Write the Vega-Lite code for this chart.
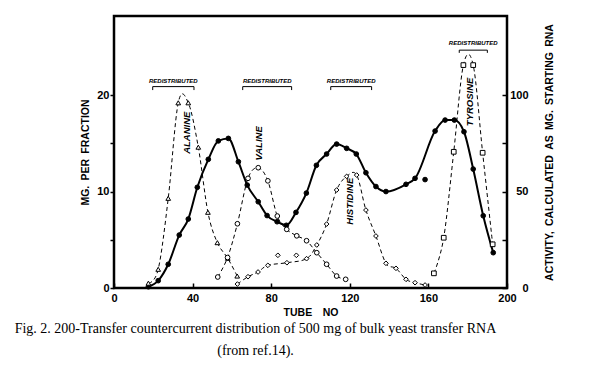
{
  "$schema": "https://vega.github.io/schema/vega-lite/v6.json",
  "width": 393,
  "height": 272,
  "autosize": {"type": "none"},
  "padding": {"left": 114, "top": 16, "right": 106, "bottom": 87},
  "background": "white",
  "config": {
    "view": {"stroke": "black", "strokeWidth": 2.5},
    "axis": {
      "labelFont": "Liberation Sans", "titleFont": "Liberation Sans",
      "labelColor": "black", "titleColor": "black", "tickColor": "black",
      "domain": false, "grid": false, "labelFontSize": 11, "labelFontWeight": "bold",
      "titleFontSize": 10.5, "titleFontWeight": "bold", "labelFlush": false, "labelOverlap": false, "tickWidth": 1.5
    }
  },
  "title": {
    "text": ["Fig. 2. 200-Transfer countercurrent distribution of 500 mg of bulk yeast transfer RNA", "(from ref.14)."],
    "orient": "bottom", "anchor": "middle", "frame": "group", "dx": -55, "offset": 4,
    "font": "Liberation Serif", "fontSize": 14, "fontWeight": "normal", "lineHeight": 22, "color": "black"
  },
  "datasets": {
    "curves": [
      {"series": "Total", "tube": 17.5, "mg": 0.13, "on_curve": true},
      {"series": "Total", "tube": 22.5, "mg": 0.76, "on_curve": true},
      {"series": "Total", "tube": 27.6, "mg": 2.46, "on_curve": true},
      {"series": "Total", "tube": 33.2, "mg": 5.49, "on_curve": true},
      {"series": "Total", "tube": 37.8, "mg": 7.15, "on_curve": true},
      {"series": "Total", "tube": 42.4, "mg": 10.44, "on_curve": true},
      {"series": "Total", "tube": 48.0, "mg": 13.34, "on_curve": true},
      {"series": "Total", "tube": 53.1, "mg": 15.25, "on_curve": true},
      {"series": "Total", "tube": 58.2, "mg": 15.51, "on_curve": true},
      {"series": "Total", "tube": 63.3, "mg": 13.09, "on_curve": true},
      {"series": "Total", "tube": 67.8, "mg": 10.67, "on_curve": true},
      {"series": "Total", "tube": 73.4, "mg": 8.94, "on_curve": true},
      {"series": "Total", "tube": 77.9, "mg": 7.51, "on_curve": true},
      {"series": "Total", "tube": 83.0, "mg": 6.87, "on_curve": true},
      {"series": "Total", "tube": 87.7, "mg": 6.5, "on_curve": true},
      {"series": "Total", "tube": 92.6, "mg": 7.84, "on_curve": true},
      {"series": "Total", "tube": 97.9, "mg": 9.84, "on_curve": true},
      {"series": "Total", "tube": 103.0, "mg": 12.72, "on_curve": true},
      {"series": "Total", "tube": 108.2, "mg": 13.89, "on_curve": true},
      {"series": "Total", "tube": 113.3, "mg": 14.92, "on_curve": true},
      {"series": "Total", "tube": 118.4, "mg": 14.48, "on_curve": true},
      {"series": "Total", "tube": 123.3, "mg": 13.89, "on_curve": true},
      {"series": "Total", "tube": 128.2, "mg": 11.95, "on_curve": true},
      {"series": "Total", "tube": 133.3, "mg": 10.52, "on_curve": true},
      {"series": "Total", "tube": 138.4, "mg": 10.0, "on_curve": true},
      {"series": "Total", "tube": 148.6, "mg": 10.75, "on_curve": true},
      {"series": "Total", "tube": 153.2, "mg": 11.37, "on_curve": true},
      {"series": "Total", "tube": 158.3, "mg": 11.24, "on_curve": false},
      {"series": "Total", "tube": 163.4, "mg": 16.27, "on_curve": true},
      {"series": "Total", "tube": 168.5, "mg": 17.41, "on_curve": true},
      {"series": "Total", "tube": 173.2, "mg": 17.41, "on_curve": true},
      {"series": "Total", "tube": 178.1, "mg": 16.2, "on_curve": true},
      {"series": "Total", "tube": 182.8, "mg": 12.33, "on_curve": true},
      {"series": "Total", "tube": 187.9, "mg": 7.49, "on_curve": true},
      {"series": "Total", "tube": 193.0, "mg": 3.66, "on_curve": true},
      {"series": "Alanine", "tube": 17.5, "mg": 0.5, "on_curve": true},
      {"series": "Alanine", "tube": 22.5, "mg": 1.94, "on_curve": true},
      {"series": "Alanine", "tube": 27.6, "mg": 9.3, "on_curve": true},
      {"series": "Alanine", "tube": 32.7, "mg": 19.2, "on_curve": true},
      {"series": "Alanine", "tube": 37.8, "mg": 19.2, "on_curve": true},
      {"series": "Alanine", "tube": 42.9, "mg": 14.6, "on_curve": true},
      {"series": "Alanine", "tube": 47.8, "mg": 7.85, "on_curve": true},
      {"series": "Alanine", "tube": 52.6, "mg": 4.7, "on_curve": true},
      {"series": "Alanine", "tube": 57.9, "mg": 3.08, "on_curve": true},
      {"series": "Alanine", "tube": 62.7, "mg": 1.24, "on_curve": true},
      {"series": "Valine", "tube": 52.8, "mg": 1.14, "on_curve": true},
      {"series": "Valine", "tube": 57.8, "mg": 3.16, "on_curve": true},
      {"series": "Valine", "tube": 62.8, "mg": 6.66, "on_curve": true},
      {"series": "Valine", "tube": 68.2, "mg": 11.37, "on_curve": true},
      {"series": "Valine", "tube": 73.4, "mg": 12.47, "on_curve": true},
      {"series": "Valine", "tube": 78.3, "mg": 11.11, "on_curve": true},
      {"series": "Valine", "tube": 83.1, "mg": 7.46, "on_curve": true},
      {"series": "Valine", "tube": 87.9, "mg": 6.08, "on_curve": true},
      {"series": "Valine", "tube": 93.0, "mg": 5.41, "on_curve": true},
      {"series": "Valine", "tube": 98.0, "mg": 4.9, "on_curve": true},
      {"series": "Valine", "tube": 103.2, "mg": 3.66, "on_curve": true},
      {"series": "Valine", "tube": 108.2, "mg": 2.46, "on_curve": true},
      {"series": "Valine", "tube": 113.3, "mg": 1.24, "on_curve": true},
      {"series": "Valine", "tube": 117.9, "mg": 0.9, "on_curve": true},
      {"series": "Histidine", "tube": 62.8, "mg": 0.41, "on_curve": true},
      {"series": "Histidine", "tube": 68.2, "mg": 1.17, "on_curve": true},
      {"series": "Histidine", "tube": 73.3, "mg": 1.66, "on_curve": true},
      {"series": "Histidine", "tube": 78.3, "mg": 2.35, "on_curve": true},
      {"series": "Histidine", "tube": 83.4, "mg": 3.39, "on_curve": false},
      {"series": "Histidine", "tube": 88.0, "mg": 2.62, "on_curve": true},
      {"series": "Histidine", "tube": 92.8, "mg": 3.39, "on_curve": false},
      {"series": "Histidine", "tube": 98.0, "mg": 3.04, "on_curve": true},
      {"series": "Histidine", "tube": 103.2, "mg": 4.46, "on_curve": true},
      {"series": "Histidine", "tube": 108.2, "mg": 6.63, "on_curve": true},
      {"series": "Histidine", "tube": 113.3, "mg": 10.16, "on_curve": true},
      {"series": "Histidine", "tube": 118.4, "mg": 11.57, "on_curve": true},
      {"series": "Histidine", "tube": 123.5, "mg": 11.71, "on_curve": true},
      {"series": "Histidine", "tube": 128.2, "mg": 8.08, "on_curve": true},
      {"series": "Histidine", "tube": 133.3, "mg": 5.39, "on_curve": true},
      {"series": "Histidine", "tube": 138.4, "mg": 2.56, "on_curve": true},
      {"series": "Histidine", "tube": 143.5, "mg": 2.04, "on_curve": true},
      {"series": "Histidine", "tube": 148.6, "mg": 0.9, "on_curve": true},
      {"series": "Histidine", "tube": 153.2, "mg": 0.55, "on_curve": true},
      {"series": "Histidine", "tube": 158.3, "mg": 0.31, "on_curve": true},
      {"series": "Tyrosine", "tube": 162.8, "mg": 1.52, "on_curve": true},
      {"series": "Tyrosine", "tube": 167.8, "mg": 5.21, "on_curve": true},
      {"series": "Tyrosine", "tube": 172.9, "mg": 14.12, "on_curve": true},
      {"series": "Tyrosine", "tube": 177.8, "mg": 23.11, "on_curve": true},
      {"series": "Tyrosine", "tube": 182.8, "mg": 23.11, "on_curve": true},
      {"series": "Tyrosine", "tube": 187.6, "mg": 14.02, "on_curve": true},
      {"series": "Tyrosine", "tube": 192.7, "mg": 4.53, "on_curve": true}
    ],
    "names": [
      {"name": "ALANINE", "tube": 36.9, "mg": 16.1},
      {"name": "VALINE", "tube": 73.8, "mg": 15.0},
      {"name": "HISTIDINE", "tube": 120.1, "mg": 9.0},
      {"name": "TYROSINE", "tube": 181.2, "mg": 19.3}
    ],
    "brackets": [
      {"start": 19.7, "end": 40.7, "mid": 30.2, "y": 20.88, "ylo": 20.52, "ty": 21.45},
      {"start": 65.5, "end": 90.4, "mid": 78.0, "y": 20.88, "ylo": 20.52, "ty": 21.45},
      {"start": 110.3, "end": 131.1, "mid": 120.7, "y": 20.88, "ylo": 20.52, "ty": 21.45},
      {"start": 175.7, "end": 190.0, "mid": 182.8, "y": 24.66, "ylo": 24.38, "ty": 25.36}
    ]
  },
  "layer": [
    {
      "data": {"name": "curves"},
      "transform": [{"filter": "datum.series !== 'Total' && datum.on_curve"}],
      "mark": {"type": "line", "interpolate": "cardinal", "strokeDash": [4, 3], "strokeWidth": 1, "color": "black"},
      "encoding": {
        "x": {"field": "tube", "type": "quantitative", "scale": {"domain": [0, 200], "nice": false},
          "axis": {"title": "TUBE\u2002\u2002NO", "values": [0, 20, 40, 60, 80, 100, 120, 140, 160, 180, 200],
            "labelExpr": "datum.value % 40 === 0 ? datum.label : ''", "tickSize": -5, "labelPadding": 9, "titlePadding": 4}},
        "y": {"field": "mg", "type": "quantitative", "scale": {"domain": [0, 28.2], "nice": false},
          "axis": {"orient": "left", "title": "MG.\u2002PER\u2002FRACTION", "values": [0, 5, 10, 15, 20],
            "labelExpr": "datum.value % 10 === 0 ? datum.label : ''", "tickSize": 4, "labelPadding": 1, "titlePadding": 6}},
        "detail": {"field": "series"}
      }
    },
    {
      "data": {"name": "curves"},
      "transform": [{"filter": "datum.series === 'Total' && datum.on_curve"}],
      "mark": {"type": "line", "interpolate": "monotone", "strokeWidth": 2, "color": "black"},
      "encoding": {
        "x": {"field": "tube", "type": "quantitative", "scale": {"domain": [0, 200], "nice": false}},
        "y": {"field": "mg", "type": "quantitative", "scale": {"domain": [0, 28.2], "nice": false},
          "axis": {"orient": "right", "title": "ACTIVITY,\u2002CALCULATED\u2002AS\u2002MG.\u2002STARTING\u2002RNA", "values": [0, 5, 10, 15, 20],
            "labelExpr": "datum.value % 10 === 0 ? format(datum.value * 5, 'd') : ''", "tickSize": -5, "labelAlign": "right", "labelPadding": 26, "labelDx": 25, "titleX": 47, "titleAngle": 270}}
      }
    },
    {
      "data": {"name": "curves"},
      "mark": {"type": "point", "filled": true, "stroke": "black", "strokeWidth": 1, "size": 22, "opacity": 1},
      "encoding": {
        "x": {"field": "tube", "type": "quantitative", "scale": {"domain": [0, 200], "nice": false}},
        "y": {"field": "mg", "type": "quantitative", "scale": {"domain": [0, 28.2], "nice": false}, "axis": null},
        "shape": {"field": "series", "type": "nominal", "legend": null,
          "scale": {"domain": ["Alanine", "Valine", "Histidine", "Tyrosine", "Total"], "range": ["triangle-up", "circle", "diamond", "square", "circle"]}},
        "fill": {"field": "series", "type": "nominal", "legend": null,
          "scale": {"domain": ["Alanine", "Valine", "Histidine", "Tyrosine", "Total"], "range": ["white", "white", "white", "white", "black"]}}
      }
    },
    {
      "data": {"name": "names"},
      "mark": {"type": "text", "angle": 270, "font": "Liberation Sans", "fontSize": 9.5, "fontWeight": "bold", "fontStyle": "italic", "align": "center", "baseline": "middle", "color": "black"},
      "encoding": {
        "x": {"field": "tube", "type": "quantitative", "scale": {"domain": [0, 200], "nice": false}},
        "y": {"field": "mg", "type": "quantitative", "scale": {"domain": [0, 28.2], "nice": false}, "axis": null},
        "text": {"field": "name"}
      }
    },
    {
      "data": {"name": "brackets"},
      "mark": {"type": "text", "text": "REDISTRIBUTED", "font": "Liberation Sans", "fontSize": 6, "fontWeight": "bold", "fontStyle": "italic", "align": "center", "baseline": "middle", "color": "black"},
      "encoding": {
        "x": {"field": "mid", "type": "quantitative", "scale": {"domain": [0, 200], "nice": false}},
        "y": {"field": "ty", "type": "quantitative", "scale": {"domain": [0, 28.2], "nice": false}, "axis": null}
      }
    },
    {
      "data": {"name": "brackets"},
      "mark": {"type": "rule", "color": "black", "strokeWidth": 1},
      "encoding": {
        "x": {"field": "start", "type": "quantitative", "scale": {"domain": [0, 200], "nice": false}},
        "x2": {"field": "end"},
        "y": {"field": "y", "type": "quantitative", "scale": {"domain": [0, 28.2], "nice": false}, "axis": null}
      }
    },
    {
      "data": {"name": "brackets"},
      "mark": {"type": "rule", "color": "black", "strokeWidth": 1},
      "encoding": {
        "x": {"field": "start", "type": "quantitative", "scale": {"domain": [0, 200], "nice": false}},
        "y": {"field": "y", "type": "quantitative", "scale": {"domain": [0, 28.2], "nice": false}, "axis": null},
        "y2": {"field": "ylo"}
      }
    },
    {
      "data": {"name": "brackets"},
      "mark": {"type": "rule", "color": "black", "strokeWidth": 1},
      "encoding": {
        "x": {"field": "end", "type": "quantitative", "scale": {"domain": [0, 200], "nice": false}},
        "y": {"field": "y", "type": "quantitative", "scale": {"domain": [0, 28.2], "nice": false}, "axis": null},
        "y2": {"field": "ylo"}
      }
    }
  ],
  "resolve": {"axis": {"y": "independent"}}
}
